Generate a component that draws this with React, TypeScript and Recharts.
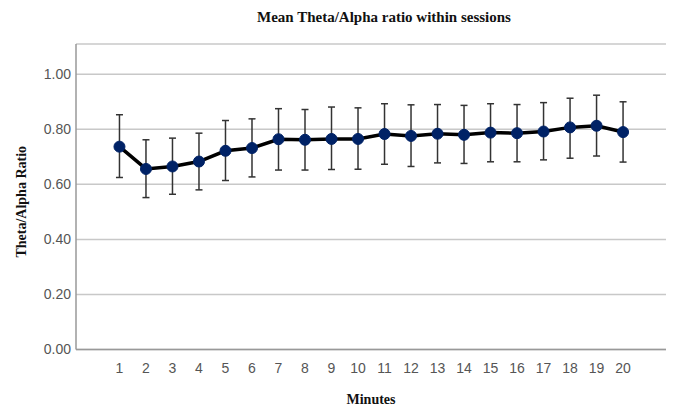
import { CartesianGrid, ErrorBar, Label, Line, LineChart, XAxis, YAxis } from 'recharts'

const minutes = [1, 2, 3, 4, 5, 6, 7, 8, 9, 10, 11, 12, 13, 14, 15, 16, 17, 18, 19, 20]
const meanRatio = [
  0.737, 0.656, 0.665, 0.683, 0.722, 0.732, 0.764, 0.762, 0.765, 0.765,
  0.783, 0.776, 0.784, 0.78, 0.788, 0.786, 0.792, 0.807, 0.813, 0.79,
]
const lowerCI = [
  0.625, 0.552, 0.564, 0.58, 0.614, 0.627, 0.652, 0.652, 0.654, 0.655,
  0.673, 0.665, 0.678, 0.676, 0.682, 0.682, 0.689, 0.695, 0.703, 0.681,
]
const upperCI = [
  0.853, 0.762, 0.768, 0.786, 0.832, 0.838, 0.875, 0.872, 0.881, 0.878,
  0.893, 0.889, 0.89, 0.887, 0.893, 0.89, 0.897, 0.913, 0.924, 0.9,
]
const yTicks = [0, 0.2, 0.4, 0.6, 0.8, 1.0]

const chartTitle = 'Mean Theta/Alpha ratio within sessions'
const xTitle = 'Minutes'
const yTitle = 'Theta/Alpha Ratio'

const data = minutes.map((m, i) => ({
  minute: m,
  mean: meanRatio[i],
  err: [meanRatio[i] - lowerCI[i], upperCI[i] - meanRatio[i]],
}))

const serif = '"Liberation Serif", "Times New Roman", serif'
const sans = '"Liberation Sans", Arial, sans-serif'
const tickStyle = { fontSize: 14, fill: '#555', fontFamily: sans }

export default function App() {
  return (
    <div style={{ position: 'absolute', left: 0, top: 0, width: 674, height: 408, background: '#fff' }}>
      <div
        style={{
          position: 'absolute',
          left: 184,
          top: 10,
          width: 400,
          textAlign: 'center',
          fontFamily: serif,
          fontWeight: 'bold',
          fontSize: 15,
          lineHeight: '15px',
          color: '#111',
        }}
      >
        {chartTitle}
      </div>
      <LineChart width={674} height={408} data={data} margin={{ top: 44, right: 8, bottom: 0, left: 0 }}>
        <CartesianGrid vertical={false} stroke="#c8c8c8" strokeWidth={1.5} />
        <XAxis
          dataKey="minute"
          type="number"
          domain={[-0.64, 21.62]}
          ticks={minutes}
          allowDataOverflow
          interval={0}
          height={58.5}
          tickLine={false}
          tickSize={0}
          tickMargin={14}
          axisLine={{ stroke: '#999', strokeWidth: 1.5 }}
          tick={tickStyle}
        >
          <Label
            value={xTitle}
            position="insideBottom"
            offset={4}
            style={{ fontFamily: serif, fontWeight: 'bold', fontSize: 14, fill: '#111' }}
          />
        </XAxis>
        <YAxis
          domain={[0, 1.11]}
          ticks={yTicks}
          width={76}
          tickLine={false}
          tickSize={0}
          tickMargin={5}
          tickFormatter={(v) => Number(v).toFixed(2)}
          axisLine={{ stroke: '#999', strokeWidth: 1.5 }}
          tick={tickStyle}
        >
          <Label
            value={yTitle}
            angle={-90}
            position="center"
            dx={-17}
            dy={5}
            style={{ fontFamily: serif, fontWeight: 'bold', fontSize: 14, fill: '#111', textAnchor: 'middle' }}
          />
        </YAxis>
        <Line
          type="linear"
          dataKey="mean"
          stroke="#000"
          strokeWidth={3.5}
          dot={{ r: 5.5, fill: '#002266', stroke: '#002266', strokeWidth: 1 }}
          activeDot={false}
          isAnimationActive={false}
        >
          <ErrorBar dataKey="err" direction="y" width={3.5} stroke="#333" strokeWidth={1.5} />
        </Line>
      </LineChart>
    </div>
  )
}
